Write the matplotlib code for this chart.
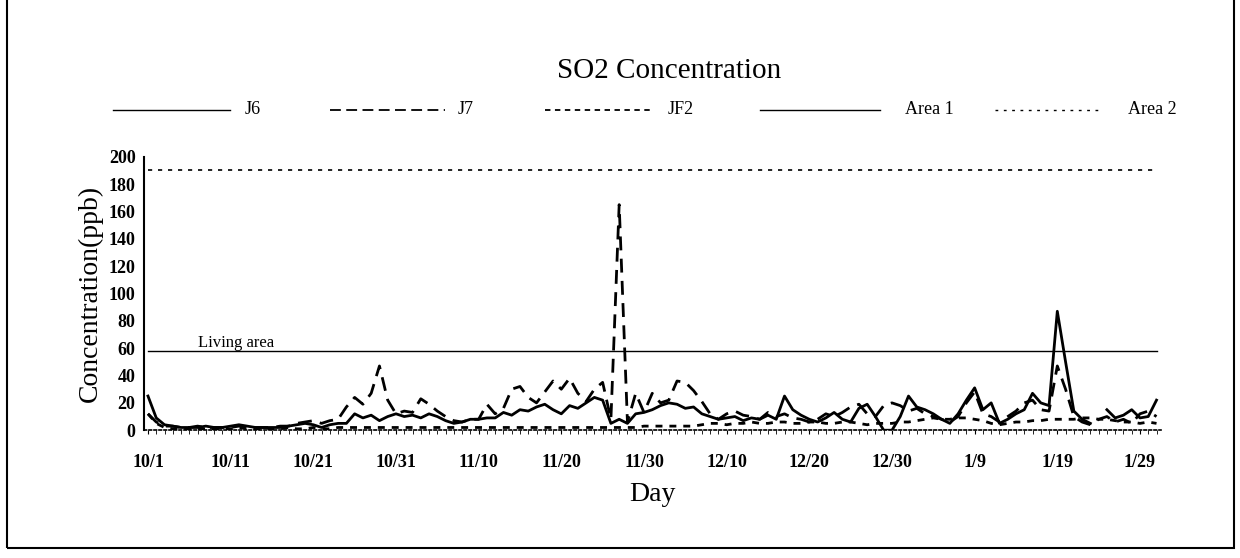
import matplotlib.pyplot as plt
import matplotlib.patches as mpatches
import numpy as np
import datetime as dt

plt.rcParams['font.family'] = ['Liberation Serif', 'DejaVu Serif']

# days 10/1 .. 1/31
start = dt.date(2000, 10, 1)
days = [start + dt.timedelta(days=i) for i in range(123)]
day_labels = ['%d/%d' % (d.month, d.day) for d in days]

j6 = [25, 9, 4, 3, 2, 2, 2, 3, 2, 2,
      3, 4, 3, 2, 2, 2, 2, 3, 4, 5,
      4, 2, 4, 5, 5, 12, 9, 11, 7, 10,
      12, 10, 11, 9, 12, 10, 7, 5, 6, 8,
      8, 9, 9, 13, 11, 15, 14, 17, 19, 15,
      12, 18, 16, 20, 24, 22, 5, 8, 5, 12,
      13, 15, 18, 20, 19, 16, 17, 12, 10, 8,
      9, 10, 7, 9, 8, 11, 8, 25, 15, 11,
      8, 6, 9, 13, 8, 6, 16, 19, 10, 0,
      0, 10, 25, 17, 15, 12, 8, 5, 12, 22,
      31, 15, 20, 5, 8, 12, 15, 27, 20, 18,
      87, 50, 14, 8, 5, np.nan, 15, 9, 11, 15,
      9, 10, 22]

j7 = [12, 6, 3, 3, 2, 2, 3, 2, 2, 2,
      2, 3, 2, 2, 2, 2, 3, 3, 5, 6,
      7, 5, 7, 8, 17, 24, 19, 27, 47, 22,
      12, 14, 13, 23, 19, 14, 10, 7, 6, 8,
      8, 19, 12, 16, 30, 32, 24, 20, 28, 36,
      30, 38, 27, 21, 30, 35, 8, 165, 6, 27,
      13, 27, 20, 22, 36, 35, 29, 21, 12, 8,
      12, 14, 11, 10, 8, 13, 10, 12, 9, 8,
      6, 8, 12, 10, 13, 17, 19, 12, 10, 18,
      20, 18, 14, 16, 12, 10, 8, 6, 10, 20,
      28, 12, 10, 6, 10, 14, 20, 22, 15, 14,
      47, 30, 10, 6, 4, 8, 10, 6, 8, 5,
      12, 14, 10]

jf2 = [12, 5, 2, 1, 1, 1, 1, 1, 1, 1,
       1, 2, 1, 1, 1, 1, 1, 2, 1, 1,
       2, 1, 1, 2, 2, 2, 2, 2, 2, 2,
       2, 2, 2, 2, 2, 2, 2, 2, 2, 2,
       2, 2, 2, 2, 2, 2, 2, 2, 2, 2,
       2, 2, 2, 2, 2, 2, 2, 2, 2, 2,
       3, 3, 3, 3, 3, 3, 3, 4, 5, 5,
       4, 5, 5, 6, 5, 5, 6, 6, 5, 5,
       6, 6, 5, 5, 6, 6, 5, 4, 5, 5,
       5, 6, 6, 7, 8, 9, 8, 8, 9, 9,
       8, 7, 5, 4, 5, 6, 6, 7, 7, 8,
       8, 8, 8, 9, 9, 8, 8, 7, 6, 6,
       5, 6, 5]

area1 = 58   # living area
area2 = 190

names = ['J6', 'J7', 'JF2', 'Area 1', 'Area 2']
styles = [dict(lw=1.0), dict(lw=1.3, dashes=(6, 3)), dict(lw=1.3, dashes=(3, 2.5)),
          dict(lw=1.0), dict(lw=1.0, dashes=(2, 4))]

x = np.arange(len(days))

fig = plt.figure(figsize=(12.4, 5.58), dpi=100)
ax = fig.add_axes([0.116, 0.229, 0.82, 0.49])

ax.plot(x, j6, color='black', lw=2.0)
ax.plot(x, j7, color='black', lw=2.0, dashes=(5, 3))
ax.plot(x, jf2, color='black', lw=2.0, dashes=(2.5, 2.5))
ax.plot(x, [area1] * len(x), color='black', lw=1.0)
ax.plot(x, [area2] * len(x), color='black', lw=1.2, dashes=(2.5, 3.5))

ax.text(6, area1 + 3, 'Living area', fontsize=12)

ax.set_xlim(-0.5, len(x) - 0.5)
ax.set_ylim(0, 200)
ax.set_yticks(range(0, 201, 20))
ax.set_xticks(x[::10])
ax.set_xticklabels(day_labels[::10], fontsize=13, fontweight='bold')
ax.set_xticks(x, minor=True)
for lab in ax.get_yticklabels():
    lab.set_fontsize(13)
    lab.set_fontweight('bold')
ax.tick_params(axis='y', length=0, pad=6)
ax.tick_params(axis='x', which='major', length=3, pad=14)
ax.tick_params(axis='x', which='minor', length=3)
ax.spines['top'].set_visible(False)
ax.spines['right'].set_visible(False)
ax.spines['left'].set_linewidth(1.5)
ax.spines['bottom'].set_linewidth(1.2)
ax.spines['bottom'].set_linestyle((0, (1.5, 1.5)))

ax.set_ylabel('Concentration(ppb)', fontsize=20, labelpad=4)
ax.set_xlabel('Day', fontsize=20, labelpad=8)

fig.text(0.54, 0.872, 'SO2 Concentration', ha='center', va='center', fontsize=21)

# legend row, drawn by hand to match the spacing of the original
W, H = 1240, 558
leg_y = 1 - 110 / H
segs = [(113, 230, 245), (330, 445, 458), (545, 650, 668), (760, 880, 905), (995, 1100, 1128)]
for (x0, x1, tx), name, st in zip(segs, names, styles):
    fig.add_artist(plt.Line2D([x0 / W, x1 / W], [leg_y, leg_y], color='black',
                              transform=fig.transFigure, **st))
    fig.text(tx / W, leg_y, name, ha='left', va='center', fontsize=13)

fig.patches.append(mpatches.Rectangle((0.006, 0.018), 0.989, 1.1, transform=fig.transFigure,
                                      fill=False, edgecolor='black', lw=1.5))

plt.savefig('out.png', dpi=100)
